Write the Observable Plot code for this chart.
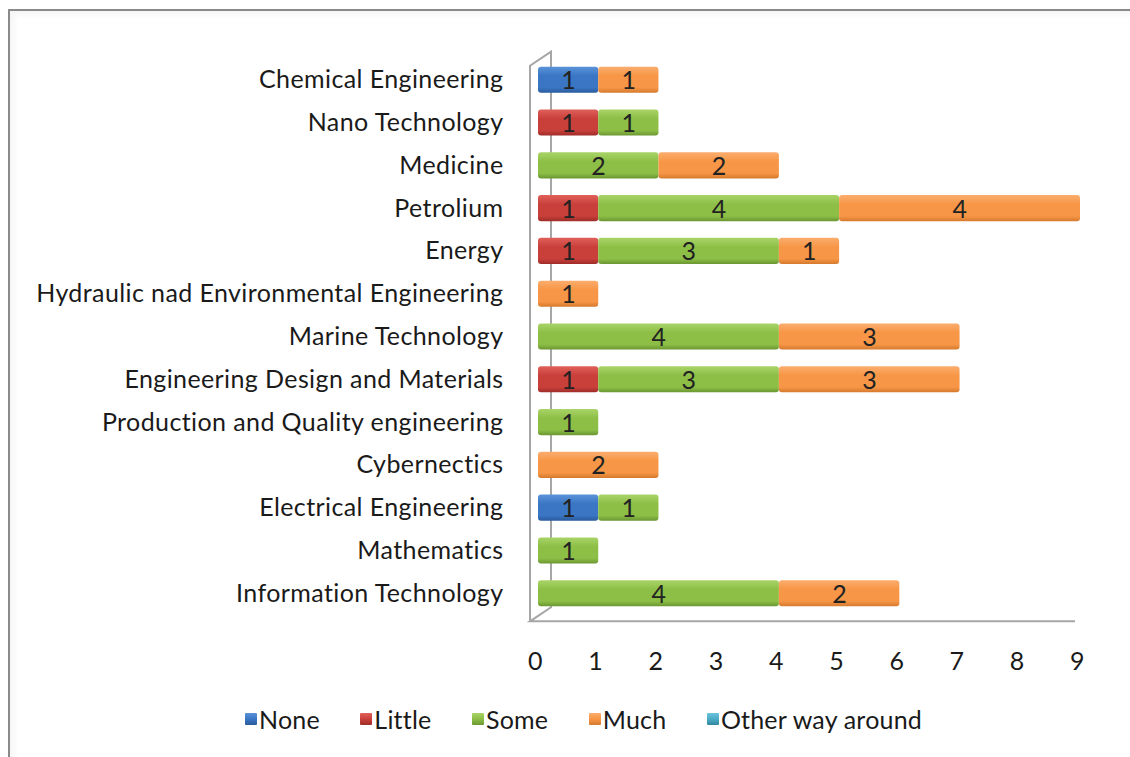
<!DOCTYPE html>
<html>
<head>
<meta charset="utf-8">
<script src="https://cdn.jsdelivr.net/npm/d3@7"></script>
<script src="https://cdn.jsdelivr.net/npm/@observablehq/plot@0.6"></script>
<style>
  body { margin: 0; background: #fff; font-family: Lato, "Noto Sans", sans-serif; }
  #frame { position: absolute; left: 8px; top: 9px; width: 1200px; height: 800px;
           border-left: 2px solid #8a8a8a; border-top: 2px solid #8a8a8a;
           box-shadow: inset 4px 4px 6px rgba(0,0,0,0.04); }
  #chart { position: absolute; left: 0; top: 0; }
  #chart svg text { letter-spacing: 0.4px; }
  #legend { position: absolute; left: 245px; width: 677px; top: 704px; display: flex;
            justify-content: space-between; align-items: center;
            font-size: 25px; color: #1a1a1a; white-space: nowrap; letter-spacing: 0.2px; }
  #legend .item { display: flex; align-items: center; }
  #legend .sw { width: 12px; height: 12px; margin-right: 2px; border-radius: 1px; }
</style>
</head>
<body>
<div id="frame"></div>
<div id="chart"></div>
<div id="legend"></div>
<script>
// Fields, listed top to bottom
const categories = [
  "Chemical Engineering",
  "Nano Technology",
  "Medicine",
  "Petrolium",
  "Energy",
  "Hydraulic nad Environmental Engineering",
  "Marine Technology",
  "Engineering Design and Materials",
  "Production and Quality engineering",
  "Cybernectics",
  "Electrical Engineering",
  "Mathematics",
  "Information Technology"
];

const levels = ["None", "Little", "Some", "Much", "Other way around"];

// Number of answers per level, one entry per field
const none     = [1, 0, 0, 0, 0, 0, 0, 0, 0, 0, 1, 0, 0];
const little   = [0, 1, 0, 1, 1, 0, 0, 1, 0, 0, 0, 0, 0];
const some     = [0, 1, 2, 4, 3, 0, 4, 3, 1, 0, 1, 1, 4];
const much     = [1, 0, 2, 4, 1, 1, 3, 3, 0, 2, 0, 0, 2];
const otherWay = [0, 0, 0, 0, 0, 0, 0, 0, 0, 0, 0, 0, 0];

const xTicks = [0, 1, 2, 3, 4, 5, 6, 7, 8, 9];

// Top, middle and bottom shades of each series' bar gradient
const shades = {
  "None":             ["#5a93d8", "#3a76c4", "#2a5a9c"],
  "Little":           ["#e0605a", "#c9403b", "#9e2c28"],
  "Some":             ["#a9d468", "#8dbf47", "#6b9632"],
  "Much":             ["#fbad6e", "#f79646", "#d57a2e"],
  "Other way around": ["#6cc2da", "#4bacc6", "#32869e"]
};

const series = [none, little, some, much, otherWay];
const rows = [];
levels.forEach((level, li) => {
  categories.forEach((category, ci) => {
    rows.push({category, level, value: series[li][ci]});
  });
});
const labelled = rows.filter(d => d.value > 0);

const gradId = l => "grad-" + levels.indexOf(l);
const font = "Lato, 'Noto Sans', sans-serif";

const plot = Plot.plot({
  width: 1130,
  height: 690,
  marginLeft: 538,
  marginRight: 50,
  marginTop: 50,
  marginBottom: 67,
  style: { fontFamily: font, fontSize: "25px", color: "#1a1a1a", background: "transparent" },
  x: { domain: [0, 9] },
  y: { domain: categories, padding: 0.39, round: false },
  color: { domain: levels, range: levels.map(l => `url(#${gradId(l)})`) },
  marks: [
    Plot.axisY({ tickSize: 0, tickPadding: 35, fontSize: 25, label: null }),
    Plot.axisX({ ticks: xTicks, tickSize: 0, tickPadding: 29, fontSize: 25, label: null, dx: -3 }),
    Plot.barX(rows, Plot.stackX({ x: "value", y: "category", fill: "level", order: levels, rx: 3 })),
    Plot.text(labelled, Plot.stackX({ x: "value", y: "category", z: "level", order: levels,
      text: d => String(d.value), fontSize: 25, fill: "#222", dy: 1 }))
  ]
});

// Gradient fills for the 3-D looking bars
const svgNS = "http://www.w3.org/2000/svg";
const defs = document.createElementNS(svgNS, "defs");
levels.forEach(l => {
  const g = document.createElementNS(svgNS, "linearGradient");
  g.setAttribute("id", gradId(l));
  g.setAttribute("x1", "0"); g.setAttribute("y1", "0");
  g.setAttribute("x2", "0"); g.setAttribute("y2", "1");
  const [top, mid, bot] = shades[l];
  [[0, top], [0.35, mid], [0.8, mid], [1, bot]].forEach(([o, c]) => {
    const s = document.createElementNS(svgNS, "stop");
    s.setAttribute("offset", o); s.setAttribute("stop-color", c);
    g.appendChild(s);
  });
  defs.appendChild(g);
});
plot.insertBefore(defs, plot.firstChild);

// Side wall and floor of the 3-D plot area, placed from the scales
const xs = plot.scale("x"), ys = plot.scale("y");
const x0 = xs.apply(0), x9 = xs.apply(9);
const yTop = ys.apply(categories[0]) - 15;
const yBot = ys.apply(categories[categories.length - 1]) + ys.bandwidth + 15;
const depthX = 21, depthY = 14;
const frontX = x0 - 8, backX = frontX + depthX;
const wall = document.createElementNS(svgNS, "path");
wall.setAttribute("d",
  `M${frontX},${yBot} L${frontX},${yTop + depthY} L${backX},${yTop} L${backX},${yBot - depthY} L${frontX},${yBot} L${x9 - 5},${yBot}`);
wall.setAttribute("fill", "none");
wall.setAttribute("stroke", "#a6a6a6");
wall.setAttribute("stroke-width", "2");
const firstMark = plot.querySelector("g[aria-label='bar']");
plot.insertBefore(wall, firstMark);

document.getElementById("chart").appendChild(plot);

// Legend
const legend = document.getElementById("legend");
levels.forEach(l => {
  const item = document.createElement("div");
  item.className = "item";
  const sw = document.createElement("div");
  sw.className = "sw";
  sw.style.background = `linear-gradient(${shades[l][0]}, ${shades[l][1]} 50%, ${shades[l][2]})`;
  const tx = document.createElement("span");
  tx.textContent = l;
  item.appendChild(sw); item.appendChild(tx);
  legend.appendChild(item);
});
</script>
</body>
</html>
